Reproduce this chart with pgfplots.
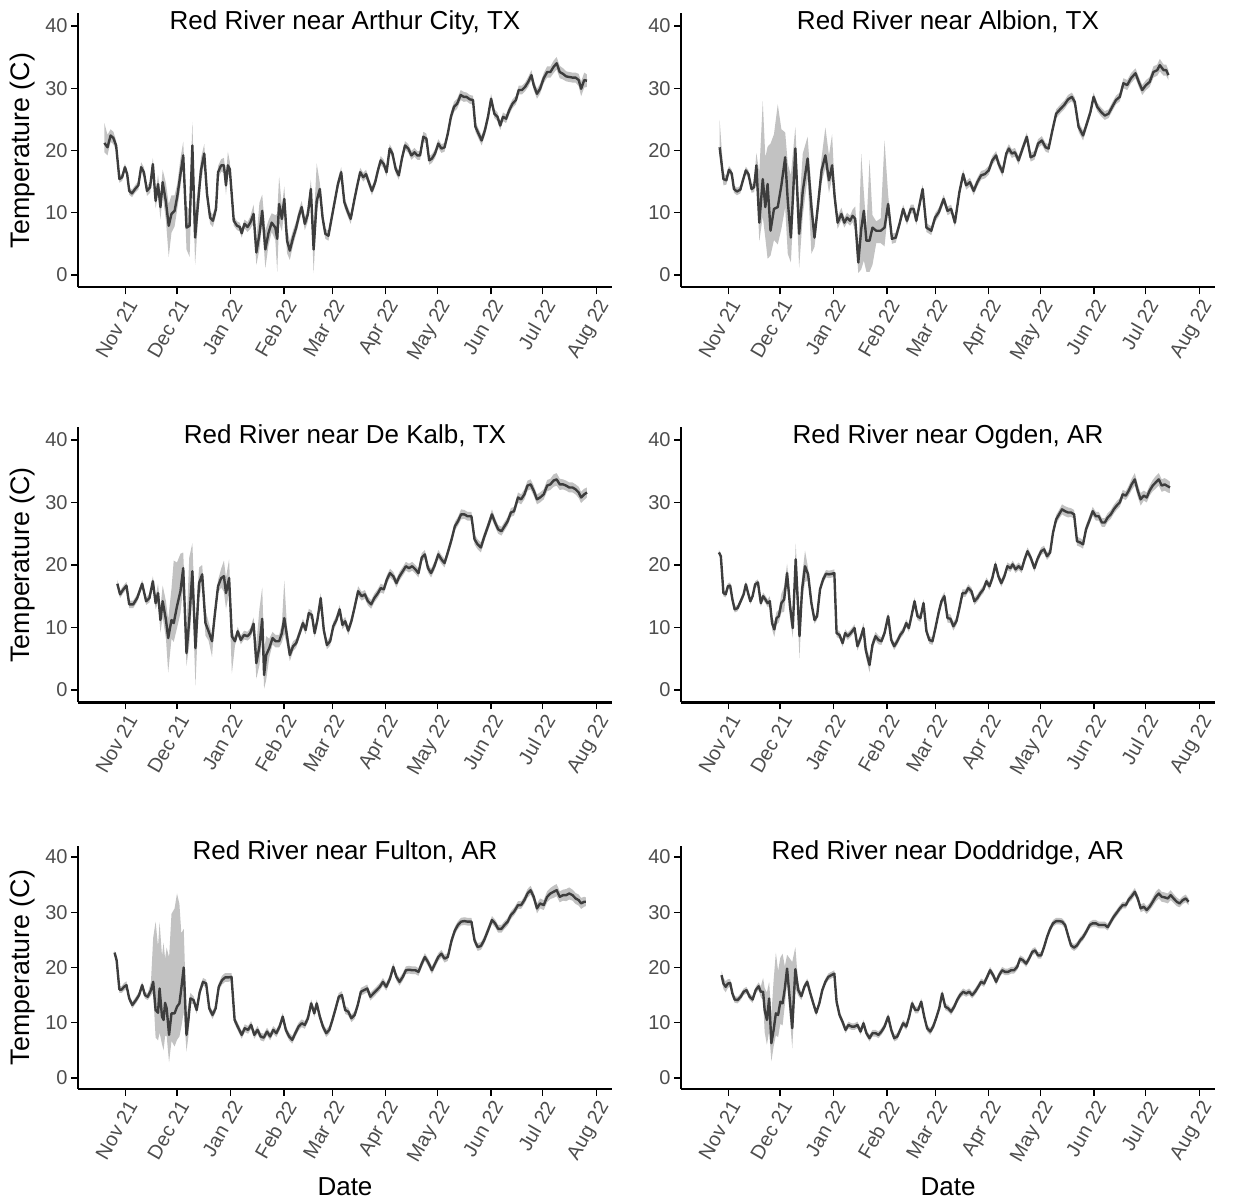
\documentclass[border=0pt]{standalone}
\usepackage{pgfplots}
\usepackage{pgfplotstable}
\pgfplotsset{compat=1.18}
\usepgfplotslibrary{fillbetween}
\usepackage{fontspec}
\setmainfont{Liberation Sans}

\definecolor{ribbon}{HTML}{C2C2C2}
\definecolor{lineC}{HTML}{3D3D3D}
\definecolor{tickgrey}{HTML}{4D4D4D}
\newcommand\tickfont{\fontsize{10}{12}\selectfont}
\newcommand\titlefont{\fontsize{13}{15}\selectfont}
\newcommand\labfont{\fontsize{13.4}{15}\selectfont}

% x = days since 1 Nov 2021, y = mean temperature (C),
% d = distance from the mean down to the band's lower edge, u = up to its upper edge
\pgfplotstableread{
x y d u
-12.1 21.2 1.5 3.2
-10.3 20.5 1.3 2.0
-8.5 22.4 1.0 1.0
-6.9 22.0 1.0 1.0
-5.3 20.8 0.8 0.8
-3.4 15.4 0.6 0.6
-1.8 15.7 0.6 0.6
-0.2 17.3 0.6 0.6
1.1 16.2 0.6 0.6
2.3 13.5 0.6 0.6
3.9 13.1 0.6 0.6
5.7 13.8 0.6 0.6
7.6 14.4 0.7 0.7
9.2 17.3 0.8 0.8
10.8 16.5 0.8 0.8
12.6 13.5 0.8 0.8
14.4 14.1 0.9 0.9
16.0 17.8 1.0 1.0
17.6 11.9 1.2 1.2
19.0 14.6 1.5 1.5
20.4 10.9 2.0 2.0
21.7 14.9 2.0 2.0
23.6 11.7 3.0 3.0
25.2 7.9 5.0 3.5
26.8 9.8 3.0 3.0
28.6 10.3 2.5 2.5
30.2 12.7 2.0 2.0
32.0 16.2 2.0 2.5
33.6 19.2 1.5 2.2
35.5 7.6 3.5 3.5
37.3 7.9 5.0 2.5
38.9 20.8 3.5 3.8
40.5 6.0 4.4 4.0
42.3 11.9 2.5 2.5
43.9 16.8 2.0 2.0
45.8 19.5 1.5 1.5
47.4 13.0 1.0 1.0
49.2 9.2 1.0 1.0
50.8 8.7 1.0 1.0
52.6 10.6 1.0 1.0
53.8 16.5 1.0 1.0
55.6 17.6 1.0 1.0
57.2 17.6 1.2 1.2
58.4 14.4 1.5 1.5
59.5 17.6 1.5 2.2
60.6 17.0 1.2 1.2
62.9 8.7 0.8 0.8
64.8 7.9 0.7 0.7
66.4 7.7 0.7 0.7
67.5 6.7 0.7 0.7
69.1 8.2 0.7 0.7
70.9 7.7 0.8 0.8
72.5 8.4 1.0 1.0
74.4 9.8 1.5 1.5
76.0 3.6 2.0 2.0
77.8 6.6 2.5 5.0
79.4 10.3 2.0 2.6
81.2 4.1 3.0 3.0
83.1 6.8 2.0 2.0
84.9 8.4 1.5 1.5
87.0 7.6 2.0 2.0
88.1 5.8 5.3 4.0
89.2 11.4 3.0 4.4
90.8 9.0 2.0 2.0
92.2 12.2 2.0 2.0
93.8 5.5 2.0 2.0
95.4 3.9 1.5 1.5
97.3 6.0 1.2 1.2
99.1 7.6 1.0 1.0
100.7 9.5 1.0 1.0
102.3 10.9 1.0 1.0
104.1 8.2 1.0 1.0
105.9 9.8 1.2 1.2
107.6 13.8 1.5 1.5
109.2 4.1 3.8 4.0
111.0 11.9 2.0 6.0
112.8 13.8 1.0 1.0
114.4 9.2 1.0 1.0
116.0 6.6 0.8 0.8
117.8 6.3 0.8 0.8
119.7 9.2 0.8 0.8
121.5 11.9 0.8 0.8
123.3 14.6 0.8 0.8
125.2 16.5 0.8 0.8
127.0 11.7 0.8 0.8
128.8 10.3 0.8 0.8
130.7 9.0 0.8 0.8
132.7 11.9 0.8 0.8
134.3 14.1 0.7 0.7
136.2 16.5 0.7 0.7
138.0 15.7 0.7 0.7
139.6 16.2 0.7 0.7
141.2 14.9 0.7 0.7
143.0 13.5 0.7 0.7
144.9 14.9 0.7 0.7
146.5 16.8 0.7 0.7
148.1 18.4 0.7 0.7
149.9 17.8 0.7 0.7
151.5 16.5 0.7 0.7
153.3 20.3 0.7 0.7
154.9 19.5 0.7 0.7
156.8 17.0 0.7 0.7
158.6 16.0 0.7 0.7
160.4 18.7 0.7 0.7
162.2 20.8 0.7 0.7
164.1 20.3 0.7 0.7
165.9 19.2 0.7 0.7
167.7 19.7 0.7 0.7
169.3 19.2 0.7 0.7
170.9 19.2 0.7 0.7
172.8 22.2 0.8 0.8
174.6 21.9 0.8 0.8
176.2 18.4 0.7 0.7
177.8 18.7 0.7 0.7
179.6 19.5 0.7 0.7
181.5 21.1 0.7 0.7
183.3 20.3 0.7 0.7
185.1 20.5 0.7 0.7
187.0 22.7 0.7 0.7
188.8 25.4 0.8 0.8
190.6 27.0 0.8 0.8
192.4 27.5 0.8 0.8
194.5 28.9 0.8 0.8
196.3 28.6 0.8 0.8
197.9 28.6 0.7 0.7
199.8 28.2 0.7 0.7
201.6 28.1 0.7 0.7
203.0 23.8 0.8 0.8
204.8 22.7 0.8 0.8
206.6 21.6 0.8 0.8
208.5 23.2 0.8 0.8
210.3 25.4 0.8 0.8
212.1 28.3 0.8 0.8
214.0 25.9 0.7 0.7
215.8 25.4 0.7 0.7
217.4 24.0 0.7 0.7
219.0 25.4 0.7 0.7
220.8 25.1 0.7 0.7
222.7 26.5 0.7 0.7
224.5 27.5 0.7 0.7
226.5 28.1 0.7 0.7
228.1 29.7 0.7 0.7
230.0 29.7 0.7 0.7
231.8 30.2 0.7 0.7
233.6 31.0 0.8 0.8
235.5 32.1 0.8 0.8
236.8 30.5 0.8 0.8
238.7 29.1 0.8 0.8
240.5 29.9 0.8 0.8
242.6 31.6 0.8 0.8
244.6 32.6 0.9 0.9
246.5 32.6 0.9 0.9
248.3 33.4 1.0 1.0
250.1 34.0 1.0 1.0
251.9 32.6 1.0 1.0
253.8 32.3 0.9 0.9
255.6 31.9 0.8 0.8
257.4 31.8 0.8 0.8
259.3 31.7 0.8 0.8
261.1 31.7 0.8 0.8
262.9 31.3 1.0 1.0
264.3 29.9 1.2 1.2
266.1 31.3 1.2 1.2
267.7 31.2 1.0 1.0
}\tArthur

\pgfplotstableread{
x y d u
-5.0 20.5 1.0 4.4
-2.8 15.4 1.0 1.0
-1.1 15.2 0.7 0.7
0.4 16.9 0.6 0.6
2.0 16.3 0.6 0.6
3.3 13.8 0.6 0.6
5.0 13.4 0.6 0.6
7.0 13.7 0.6 0.6
8.5 15.2 0.6 0.6
10.2 16.8 0.6 0.6
11.7 16.2 0.6 0.6
13.5 13.8 0.6 0.6
15.0 14.1 0.8 1.0
16.3 17.6 1.5 2.0
18.0 8.4 3.0 8.0
20.0 15.4 6.0 12.5
21.5 10.9 5.0 8.0
22.8 14.6 12.0 6.0
24.5 7.1 4.0 14.0
26.5 10.6 5.0 12.0
28.7 10.9 6.0 16.5
30.8 14.4 7.0 9.0
33.0 18.9 8.0 4.0
34.5 11.9 8.5 6.0
36.3 6.0 4.0 10.0
38.9 20.3 4.0 3.5
41.1 6.6 5.5 4.0
43.2 13.5 4.0 6.0
46.0 18.7 3.0 3.5
48.2 10.9 7.5 3.0
50.0 6.0 1.5 1.5
51.9 10.9 1.5 1.5
54.1 16.8 2.0 2.0
56.3 19.2 2.0 4.5
58.4 15.2 2.0 4.0
60.2 17.6 2.0 5.0
61.7 12.5 1.5 1.5
63.4 8.4 1.0 1.0
65.6 9.8 1.0 1.0
67.3 8.4 0.8 0.8
68.9 9.2 0.8 0.8
70.6 8.7 0.8 0.8
72.1 9.5 1.0 1.0
73.6 9.0 2.0 2.0
75.4 2.0 1.7 2.0
77.1 7.4 6.5 12.0
78.6 10.3 8.0 3.0
80.1 5.5 5.0 2.0
81.9 5.5 5.0 13.0
83.6 7.6 6.0 2.0
85.8 7.1 2.0 1.5
88.4 7.1 2.0 2.0
90.6 7.6 3.0 14.0
92.7 11.4 1.0 1.5
94.9 5.8 0.8 0.8
97.1 6.0 0.8 0.8
99.3 8.2 0.7 0.7
101.4 10.6 0.7 0.7
103.6 8.7 0.7 0.7
105.8 10.6 0.7 0.7
107.5 10.6 0.7 0.7
109.0 8.7 0.7 0.7
112.7 13.8 0.7 0.7
114.9 7.6 0.7 0.7
117.7 7.1 0.7 0.7
119.9 9.2 0.7 0.7
122.1 10.1 0.7 0.7
124.9 12.2 0.7 0.7
127.1 10.3 0.7 0.7
129.2 10.6 0.7 0.7
131.4 8.4 0.7 0.7
134.0 13.3 0.7 0.7
136.2 16.2 0.7 0.7
137.9 14.4 0.7 0.7
140.1 14.9 0.7 0.7
142.3 13.5 0.7 0.7
144.4 14.9 0.7 0.7
146.6 16.0 0.7 0.7
148.8 16.2 0.7 0.7
151.0 16.8 0.7 0.7
153.1 18.4 0.7 0.7
155.3 19.2 0.7 0.7
156.8 17.8 0.7 0.7
159.0 16.5 0.7 0.7
161.2 19.5 0.7 0.7
162.7 20.3 0.7 0.7
164.4 19.5 0.7 0.7
166.2 19.7 0.7 0.7
168.3 18.4 0.7 0.7
170.9 20.5 0.7 0.7
173.1 22.2 0.7 0.7
175.3 18.9 0.7 0.7
177.5 19.2 0.7 0.7
179.6 21.1 0.7 0.7
181.8 21.6 0.7 0.7
184.0 20.5 0.7 0.7
185.7 20.3 0.7 0.7
187.9 23.2 0.7 0.7
190.1 25.9 0.7 0.7
192.7 26.7 0.7 0.7
194.8 27.3 0.7 0.7
197.0 28.2 0.7 0.7
199.2 28.6 0.7 0.7
200.9 27.8 0.7 0.7
203.1 23.8 0.8 0.8
205.7 22.4 0.8 0.8
207.9 24.3 0.7 0.7
210.0 26.2 0.7 0.7
211.8 28.6 0.7 0.7
213.9 27.0 0.7 0.7
216.1 26.2 0.7 0.7
218.3 25.6 0.7 0.7
220.5 25.9 0.7 0.7
222.6 27.0 0.7 0.7
224.8 28.1 0.7 0.7
227.0 28.6 0.7 0.7
229.1 30.8 0.8 0.8
231.3 30.5 0.8 0.8
233.5 31.6 0.8 0.8
236.1 32.4 0.8 0.8
238.3 30.8 0.8 0.8
240.0 29.7 0.8 0.8
242.2 30.5 0.8 0.8
244.3 31.0 0.8 0.8
246.5 32.6 0.9 0.9
248.7 32.9 0.9 0.9
250.2 33.7 1.0 1.0
252.4 32.9 0.9 0.9
253.9 32.9 0.9 0.9
255.2 32.1 0.8 0.8
}\tAlbion

\pgfplotstableread{
x y d u
-4.6 17.0 0.6 0.6
-3.0 15.3 0.6 0.6
-1.1 16.1 0.6 0.6
0.7 16.7 0.6 0.6
2.3 13.7 0.6 0.6
4.6 13.7 0.6 0.6
6.9 14.7 0.6 0.6
9.8 17.0 0.6 0.6
12.1 14.2 0.6 0.6
14.0 14.7 0.7 0.7
16.0 17.4 0.8 0.8
17.6 13.9 1.0 1.0
19.0 15.5 1.5 1.5
20.4 11.2 2.0 2.0
21.7 14.2 2.5 2.5
23.6 11.2 3.0 3.0
24.9 8.3 5.5 3.0
26.8 11.2 3.0 5.0
28.1 10.7 3.0 10.0
30.0 13.4 3.5 7.0
32.0 15.8 3.5 6.0
33.6 19.5 3.0 2.5
35.5 5.9 2.0 4.0
37.1 11.2 4.0 10.0
38.9 19.0 4.0 4.5
40.7 6.7 6.0 4.0
42.8 17.1 2.5 2.5
44.6 18.5 1.5 1.5
46.5 10.7 2.0 2.0
48.3 9.4 1.5 1.5
50.3 7.8 2.5 1.0
51.9 12.0 1.0 1.0
53.8 16.6 1.0 1.0
55.6 17.9 1.5 1.5
57.2 18.2 2.5 2.5
58.4 15.5 2.5 2.5
60.2 17.9 2.5 3.0
61.8 8.6 6.0 1.0
63.6 7.8 0.7 0.7
65.2 9.4 0.7 0.7
67.0 8.0 0.7 0.7
68.9 8.8 0.7 0.7
70.9 8.6 0.7 0.7
72.5 9.1 0.8 0.8
74.4 10.6 1.0 1.0
76.0 4.3 2.5 3.0
77.8 7.0 3.0 6.0
79.4 11.4 3.0 5.0
80.5 2.4 2.2 4.0
81.7 5.6 4.0 3.0
83.5 6.7 1.5 1.5
85.4 8.3 1.0 1.0
87.2 7.8 1.0 1.0
89.2 7.8 1.0 1.0
90.8 9.1 1.5 1.5
92.2 11.5 2.5 6.0
93.8 8.6 1.5 1.5
95.4 5.6 1.0 1.0
97.3 7.0 0.8 0.8
99.1 7.5 0.7 0.7
101.1 9.1 0.7 0.7
103.0 10.7 0.7 0.7
104.6 9.6 0.7 0.7
106.4 12.3 0.7 0.7
108.2 12.0 0.7 0.7
109.8 9.1 0.7 0.7
111.4 11.2 0.7 0.7
113.3 14.7 0.8 0.8
115.1 9.6 0.7 0.7
116.9 7.2 0.7 0.7
118.8 7.8 0.7 0.7
120.6 10.2 0.7 0.7
122.4 11.2 0.7 0.7
124.3 12.9 0.7 0.7
125.9 10.4 0.7 0.7
127.5 11.0 0.7 0.7
129.3 9.5 0.7 0.7
131.1 11.0 0.7 0.7
132.7 12.9 0.7 0.7
135.0 15.8 0.8 0.8
137.1 15.0 0.7 0.7
138.9 15.3 0.7 0.7
140.7 14.2 0.7 0.7
142.6 13.7 0.7 0.7
144.4 14.7 0.7 0.7
146.5 15.5 0.7 0.7
148.1 16.3 0.7 0.7
149.9 16.1 0.7 0.7
151.7 17.7 0.7 0.7
153.5 18.7 0.7 0.7
155.4 18.2 0.7 0.7
157.2 17.1 0.7 0.7
159.0 18.2 0.7 0.7
160.9 19.0 0.7 0.7
162.7 19.8 0.7 0.7
164.5 19.5 0.7 0.7
166.4 19.8 0.7 0.7
168.2 19.3 0.7 0.7
170.0 18.7 0.7 0.7
171.9 21.2 0.7 0.7
173.7 21.7 0.7 0.7
175.5 19.5 0.7 0.7
177.3 18.7 0.7 0.7
179.2 19.8 0.7 0.7
181.5 21.7 0.7 0.7
183.3 20.9 0.7 0.7
185.1 20.3 0.7 0.7
187.0 22.0 0.7 0.7
189.2 24.1 0.7 0.7
191.1 26.2 0.7 0.7
192.9 27.0 0.7 0.7
194.7 28.1 0.8 0.8
196.6 28.1 0.7 0.7
198.4 27.8 0.7 0.7
200.7 27.8 0.7 0.7
202.5 24.1 0.8 0.8
204.3 23.3 0.8 0.8
206.2 22.8 0.8 0.8
208.0 24.4 0.7 0.7
210.3 26.2 0.7 0.7
212.6 28.1 0.8 0.8
214.4 26.8 0.7 0.7
216.2 25.7 0.7 0.7
218.1 25.4 0.7 0.7
219.9 26.2 0.7 0.7
221.7 27.0 0.7 0.7
223.6 28.4 0.7 0.7
225.4 28.6 0.7 0.7
227.7 30.8 0.8 0.8
229.5 30.5 0.8 0.8
231.4 31.3 0.8 0.8
233.2 32.7 0.8 0.8
235.0 32.9 0.8 0.8
236.8 31.9 0.8 0.8
238.7 30.5 0.8 0.8
240.5 30.8 0.8 0.8
242.6 31.3 0.8 0.8
244.6 32.7 0.9 0.9
246.5 32.9 0.9 0.9
248.3 33.5 1.0 1.0
250.1 33.7 1.0 1.0
251.9 32.9 0.9 0.9
253.8 32.9 0.8 0.8
255.6 32.7 0.8 0.8
257.4 32.4 0.8 0.8
259.3 32.4 0.8 0.8
261.1 32.1 0.8 0.8
262.9 31.6 0.9 0.9
264.3 30.8 0.9 0.9
266.1 31.3 0.9 0.9
267.7 31.6 0.8 0.8
}\tDeKalb

\pgfplotstableread{
x y d
-5.4 22.0 0.4
-4.3 21.4 0.4
-2.8 15.5 0.5
-1.5 15.3 0.5
-0.2 16.6 0.5
1.1 16.7 0.5
2.4 14.5 0.5
3.7 12.9 0.5
5.4 13.1 0.5
7.2 14.2 0.5
8.9 15.3 0.5
10.2 16.9 0.5
11.5 15.5 0.5
12.8 14.2 0.5
14.1 15.0 0.5
15.6 16.9 0.5
17.2 17.2 0.5
18.9 13.9 0.6
20.2 15.0 0.6
21.5 14.5 0.6
22.8 13.9 0.6
24.1 14.2 0.8
25.4 10.7 1.0
26.7 9.7 1.2
28.0 11.5 1.0
29.3 11.8 1.0
30.8 13.9 1.5
32.4 14.5 2.0
34.1 18.7 1.5
35.8 13.4 2.0
37.4 9.9 1.5
39.1 20.9 2.5
41.3 8.6 3.5
42.8 16.1 2.0
44.5 19.8 2.5
46.3 18.5 1.0
48.2 13.9 0.7
50.0 11.2 0.6
51.5 11.8 0.6
53.2 16.1 0.6
55.0 17.7 0.6
56.7 18.6 0.6
58.4 18.5 0.6
60.2 18.6 0.6
61.5 18.7 0.6
62.8 9.1 0.6
64.5 8.8 0.6
66.3 7.5 0.6
67.8 9.1 0.6
69.3 8.6 0.6
71.0 9.1 0.6
73.2 9.9 0.6
74.9 7.0 0.7
76.7 8.3 0.7
78.4 9.9 0.8
79.7 6.4 1.0
81.9 4.0 1.2
83.6 7.2 0.8
85.4 8.6 0.7
87.1 8.0 0.7
88.8 7.8 0.6
90.6 9.1 0.6
92.7 11.8 0.6
94.5 8.0 0.6
96.2 7.0 0.6
98.0 7.8 0.6
99.7 8.8 0.6
101.4 9.4 0.6
103.2 10.7 0.6
104.7 9.9 0.6
106.2 11.8 0.6
108.0 14.2 0.6
109.7 11.8 0.6
111.4 11.5 0.6
113.2 13.9 0.6
114.9 9.4 0.6
116.6 8.0 0.6
118.4 7.8 0.6
120.1 9.9 0.6
121.9 12.3 0.6
123.6 14.2 0.6
125.3 15.0 0.7
127.1 11.5 0.7
128.8 11.4 0.7
130.5 10.2 0.7
132.3 11.0 0.6
134.0 13.1 0.6
135.8 15.5 0.6
137.5 15.5 0.6
139.2 16.3 0.6
141.0 15.8 0.6
142.7 14.2 0.6
144.4 14.7 0.6
146.2 15.5 0.6
147.9 16.1 0.6
149.7 17.4 0.6
151.4 16.6 0.6
153.1 17.9 0.6
154.9 20.1 0.6
156.6 18.2 0.6
158.3 17.1 0.6
160.1 18.2 0.6
161.8 19.8 0.6
163.6 19.5 0.6
164.9 20.1 0.6
166.6 19.3 0.6
168.3 19.8 0.6
170.1 19.3 0.6
171.8 20.9 0.6
173.5 22.2 0.6
175.3 21.2 0.6
177.5 19.5 0.6
179.2 20.9 0.6
181.4 22.2 0.6
183.1 22.5 0.6
184.8 21.4 0.6
186.6 22.0 0.6
188.3 25.2 0.6
190.1 27.3 0.7
191.8 28.1 0.7
193.5 28.9 0.8
195.3 28.6 0.8
197.0 28.4 0.8
198.7 28.4 0.7
200.5 28.1 0.7
202.2 23.8 0.7
204.0 23.6 0.7
205.7 23.3 0.7
207.4 25.7 0.7
209.6 27.3 0.7
211.3 28.6 0.7
213.1 27.8 0.7
214.8 27.8 0.7
216.6 26.8 0.7
218.3 26.8 0.7
220.0 27.6 0.7
221.8 28.1 0.7
223.5 28.9 0.7
225.2 29.5 0.7
227.0 30.0 0.7
228.7 31.3 0.7
230.5 31.1 0.7
232.2 31.9 0.8
233.9 32.9 0.9
235.7 33.7 1.0
237.4 31.9 1.0
239.1 30.5 1.0
240.9 31.1 0.8
242.6 30.8 0.8
244.3 31.9 0.8
246.1 32.7 0.9
247.8 33.2 1.0
249.6 33.7 1.0
251.3 32.7 1.0
253.0 32.9 1.0
254.8 32.6 1.0
256.1 32.4 0.9
}\tOgden

\pgfplotstableread{
x y d u
-6.2 22.7 0.4 0.4
-5.0 21.3 0.4 0.4
-3.4 16.0 0.6 0.6
-2.1 16.0 0.6 0.6
-0.7 16.5 0.7 0.7
0.7 16.8 0.7 0.7
2.3 14.4 0.6 0.6
4.1 13.2 0.6 0.6
6.2 14.1 0.6 0.6
8.0 15.0 0.6 0.6
9.8 16.8 0.6 0.6
11.4 15.0 0.6 0.6
13.0 14.7 0.6 0.6
14.9 15.9 1.0 1.5
16.2 17.4 2.0 8.0
17.6 12.3 5.0 16.0
19.0 11.8 5.0 12.0
19.9 16.2 8.0 12.0
21.3 11.1 5.0 11.0
22.2 10.5 5.5 14.0
23.1 13.6 6.0 8.0
24.0 12.6 5.0 11.0
25.4 7.8 5.0 14.0
26.8 11.7 5.0 18.0
28.6 11.7 6.0 19.0
30.0 12.9 6.0 20.5
31.4 13.5 6.0 18.0
32.5 16.2 7.0 10.0
33.9 20.0 8.0 7.0
35.5 7.8 3.0 3.0
36.6 10.5 3.0 3.0
37.8 14.4 1.0 1.0
39.6 14.1 0.7 0.7
41.4 12.3 0.7 0.7
43.2 15.6 0.7 0.7
45.1 17.4 0.7 0.7
46.9 17.1 0.7 0.7
48.7 12.6 0.7 0.7
50.6 11.4 0.7 0.7
52.4 12.6 0.7 0.7
54.2 16.5 0.7 0.7
56.1 17.7 0.8 0.8
57.9 18.2 0.8 0.8
59.7 18.2 0.8 0.8
61.6 18.3 0.7 0.7
63.4 10.5 0.7 0.7
65.2 9.3 0.7 0.7
67.5 7.8 0.7 0.7
69.3 9.0 0.7 0.7
71.2 8.7 0.7 0.7
73.0 9.6 0.7 0.7
74.8 7.8 0.7 0.7
76.7 8.7 0.7 0.7
78.5 7.5 0.7 0.7
80.3 7.3 0.7 0.7
82.2 8.4 0.7 0.7
84.0 7.5 0.7 0.7
85.8 8.7 0.7 0.7
87.6 8.1 0.7 0.7
89.5 9.3 0.7 0.7
91.3 11.1 0.7 0.7
93.1 8.7 0.7 0.7
95.0 7.5 0.7 0.7
96.8 6.9 0.7 0.7
98.6 8.1 0.7 0.7
100.5 9.3 0.7 0.7
102.3 9.9 0.7 0.7
104.1 9.6 0.7 0.7
105.9 10.8 0.7 0.7
107.8 13.5 0.7 0.7
109.6 11.7 0.7 0.7
111.0 13.5 0.7 0.7
112.8 11.1 0.7 0.7
114.6 9.3 0.7 0.7
116.5 8.1 0.7 0.7
118.3 8.7 0.7 0.7
120.1 10.5 0.7 0.7
122.0 12.6 0.7 0.7
123.8 14.7 0.7 0.7
125.6 15.0 0.7 0.7
127.5 12.3 0.7 0.7
129.3 12.0 0.7 0.7
131.1 10.8 0.7 0.7
133.0 11.4 0.7 0.7
134.8 13.2 0.7 0.7
136.6 15.6 0.7 0.7
138.4 15.9 0.7 0.7
140.3 16.2 0.7 0.7
142.1 14.7 0.7 0.7
143.9 15.3 0.7 0.7
145.8 15.9 0.7 0.7
147.6 16.5 0.7 0.7
149.4 17.4 0.7 0.7
151.3 16.5 0.7 0.7
153.5 18.0 0.7 0.7
155.4 20.1 0.7 0.7
157.2 18.3 0.7 0.7
159.0 17.4 0.7 0.7
160.9 18.3 0.7 0.7
162.7 19.5 0.7 0.7
164.5 19.6 0.7 0.7
166.4 19.5 0.7 0.7
168.2 19.5 0.7 0.7
170.0 19.2 0.7 0.7
171.9 20.7 0.7 0.7
173.7 21.9 0.7 0.7
175.5 21.0 0.7 0.7
177.8 19.5 0.7 0.7
179.6 20.7 0.7 0.7
181.5 21.9 0.7 0.7
183.3 22.5 0.7 0.7
185.1 21.6 0.7 0.7
187.0 21.9 0.7 0.7
189.2 24.9 0.7 0.7
191.1 26.7 0.7 0.7
192.9 27.7 0.7 0.7
194.7 28.3 0.7 0.7
196.6 28.4 0.7 0.7
198.4 28.3 0.7 0.7
200.7 28.3 0.7 0.7
202.5 24.9 0.7 0.7
204.3 23.7 0.7 0.7
206.2 23.9 0.7 0.7
208.0 24.9 0.7 0.7
210.3 26.7 0.7 0.7
212.6 28.6 0.7 0.7
214.4 28.0 0.7 0.7
216.2 27.0 0.7 0.7
218.1 27.0 0.7 0.7
219.9 27.7 0.7 0.7
221.7 28.3 0.7 0.7
223.6 29.5 0.7 0.7
225.4 30.1 0.7 0.7
227.7 31.3 0.7 0.7
229.5 31.3 0.7 0.7
231.4 32.2 0.7 0.7
233.2 33.4 0.8 0.8
235.0 34.0 0.8 0.8
236.8 32.8 0.8 0.8
238.7 30.7 0.9 0.9
240.5 31.6 0.9 0.9
242.6 31.3 0.9 0.9
244.6 32.8 1.0 1.0
246.5 33.4 1.0 1.0
248.3 33.7 1.1 1.1
250.1 34.0 1.1 1.1
251.9 32.8 1.0 1.0
253.8 33.1 1.0 1.0
255.6 33.1 1.1 1.1
257.4 33.4 1.1 1.1
259.3 33.1 1.0 1.0
261.1 32.5 1.0 1.0
262.9 32.2 1.0 1.0
264.3 31.6 1.0 1.0
266.1 31.9 0.9 0.9
267.0 31.9 0.8 0.8
}\tFulton

\pgfplotstableread{
x y d u
-3.9 18.6 0.8 0.8
-2.8 17.1 1.0 1.0
-1.5 16.5 1.0 1.0
-0.2 17.1 0.8 0.8
1.1 17.2 0.7 0.7
2.4 15.3 0.6 0.6
3.7 14.2 0.6 0.6
5.4 14.1 0.6 0.6
7.2 14.7 0.6 0.6
8.9 15.6 0.6 0.6
10.6 15.9 0.6 0.6
12.4 14.7 0.6 0.6
14.1 14.2 0.6 0.6
15.9 15.9 0.6 0.6
17.6 16.6 0.7 0.7
18.9 15.6 1.0 1.0
20.2 15.6 1.5 2.5
21.1 12.3 4.0 4.0
22.4 10.5 4.5 5.0
23.7 14.4 6.0 3.0
25.0 6.3 3.3 5.0
26.3 8.7 3.0 9.0
27.6 11.7 4.0 11.0
28.9 11.4 4.0 8.0
30.2 13.8 4.0 8.0
31.5 13.5 4.0 9.0
32.8 16.2 3.0 4.0
34.1 19.8 2.5 2.5
37.1 9.0 3.6 12.0
38.9 19.7 3.5 4.0
40.6 15.9 1.0 1.0
42.4 14.8 0.7 0.7
44.1 16.5 0.6 0.6
45.8 17.4 0.6 0.6
47.6 15.3 0.6 0.6
49.3 13.5 0.6 0.6
51.0 11.8 0.6 0.6
52.8 13.5 0.6 0.6
54.5 15.9 0.6 0.6
56.3 17.4 0.6 0.6
58.0 18.3 0.6 0.6
59.7 18.6 0.6 0.6
61.5 18.9 0.6 0.6
62.8 13.8 0.6 0.6
64.5 11.4 0.6 0.6
66.2 10.2 0.6 0.6
68.0 8.7 0.6 0.6
69.7 9.6 0.6 0.6
71.5 9.3 0.6 0.6
73.2 9.3 0.6 0.6
74.9 9.6 0.6 0.6
76.7 8.4 0.6 0.6
78.4 9.9 0.6 0.6
80.1 8.1 0.6 0.6
81.9 7.2 0.6 0.6
83.6 8.1 0.6 0.6
85.4 8.1 0.6 0.6
87.1 7.8 0.6 0.6
88.8 8.4 0.6 0.6
90.6 9.3 0.6 0.6
92.7 11.1 0.6 0.6
94.5 8.7 0.6 0.6
96.2 7.2 0.6 0.6
98.0 7.5 0.6 0.6
99.7 8.7 0.6 0.6
101.4 9.9 0.6 0.6
103.2 9.3 0.6 0.6
104.9 11.1 0.6 0.6
106.6 13.5 0.6 0.6
108.4 12.3 0.6 0.6
110.1 12.3 0.6 0.6
111.9 13.8 0.6 0.6
113.6 11.1 0.6 0.6
115.3 9.0 0.6 0.6
117.1 8.4 0.6 0.6
118.8 9.3 0.6 0.6
120.5 10.8 0.6 0.6
122.3 12.6 0.6 0.6
124.0 15.3 0.6 0.6
125.8 12.9 0.6 0.6
127.5 12.6 0.6 0.6
129.2 12.0 0.6 0.6
131.0 12.9 0.6 0.6
132.7 14.1 0.6 0.6
134.4 15.0 0.6 0.6
136.2 15.6 0.6 0.6
137.9 15.3 0.6 0.6
139.7 15.6 0.6 0.6
141.4 15.0 0.6 0.6
143.1 15.6 0.6 0.6
144.9 16.5 0.6 0.6
146.6 17.4 0.6 0.6
148.3 17.1 0.6 0.6
150.1 18.3 0.6 0.6
151.8 19.5 0.6 0.6
153.6 18.6 0.6 0.6
155.3 17.4 0.6 0.6
157.0 18.6 0.6 0.6
158.8 19.5 0.6 0.6
160.5 19.2 0.6 0.6
162.2 19.2 0.6 0.6
164.0 19.5 0.6 0.6
165.7 19.5 0.6 0.6
167.5 20.1 0.6 0.6
169.2 21.6 0.6 0.6
170.9 21.3 0.6 0.6
172.7 20.7 0.6 0.6
174.4 21.6 0.6 0.6
176.2 22.8 0.6 0.6
177.9 23.1 0.6 0.6
179.6 22.2 0.6 0.6
181.4 22.2 0.6 0.6
183.1 23.7 0.6 0.6
184.8 25.5 0.6 0.6
186.6 27.0 0.6 0.6
188.3 28.0 0.6 0.6
190.1 28.4 0.6 0.6
191.8 28.4 0.6 0.6
193.5 28.3 0.6 0.6
195.3 27.7 0.6 0.6
197.0 25.8 0.6 0.6
198.7 24.0 0.6 0.6
200.5 23.6 0.6 0.6
202.2 24.0 0.6 0.6
204.0 24.9 0.6 0.6
205.7 25.5 0.6 0.6
207.4 26.4 0.6 0.6
209.6 27.7 0.6 0.6
211.3 28.0 0.6 0.6
213.1 28.0 0.6 0.6
214.8 27.7 0.6 0.6
216.6 27.7 0.6 0.6
218.3 27.7 0.6 0.6
220.0 27.3 0.6 0.6
221.8 28.3 0.6 0.6
223.5 29.2 0.6 0.6
225.2 29.9 0.6 0.6
227.0 30.7 0.6 0.6
228.7 31.3 0.6 0.6
230.5 31.3 0.6 0.6
232.2 32.3 0.6 0.6
233.9 32.9 0.7 0.7
235.7 33.7 0.7 0.7
237.4 32.5 0.7 0.7
239.1 30.7 0.7 0.7
240.9 31.0 0.7 0.7
242.6 30.4 0.7 0.7
244.3 31.0 0.7 0.7
246.1 31.9 0.8 0.8
247.8 32.8 0.9 0.9
249.6 33.4 0.9 0.9
251.3 32.8 0.9 0.9
253.0 32.7 0.9 0.9
254.8 32.5 0.9 0.9
256.5 33.1 0.9 0.9
258.2 32.5 0.8 0.8
260.0 31.9 0.8 0.8
261.7 31.6 0.7 0.7
263.5 32.2 0.7 0.7
265.2 32.5 0.7 0.7
266.9 31.9 0.6 0.6
}\tDoddridge

\pgfplotsset{
  panel/.style={
    scale only axis, width=267pt,
    xmin=-27.4, xmax=282.2, ymin=-2, ymax=42,
    axis x line*=bottom, axis y line*=left,
    axis line style={line width=1.1pt, black, -},
    xtick={0,30,61,92,120,151,181,212,242,273},
    xticklabels={Nov 21,Dec 21,Jan 22,Feb 22,Mar 22,Apr 22,May 22,Jun 22,Jul 22,Aug 22},
    ytick={0,10,20,30,40},
    tick align=outside,
    major tick length=3.5pt,
    every tick/.style={black, line width=0.6pt},
    tick label style={font=\tickfont, text=tickgrey},
    xticklabel style={rotate=60, anchor=north east, inner sep=1pt},
    yticklabel style={inner sep=1.5pt},
    /pgf/number format/assume math mode=true,
    every axis title shift=0pt,
    title style={at={(0.5,0.943)}, anchor=base, font=\titlefont, inner sep=0pt},
  }
}

% band between y-d and y+(upper column), then the mean line
\newcommand\series[2]{%
  \addplot[name path=U, draw=none, forget plot] table[x=x, y expr=\thisrow{y}+\thisrow{#2}] {#1};
  \addplot[name path=L, draw=none, forget plot] table[x=x, y expr=\thisrow{y}-\thisrow{d}] {#1};
  \addplot[ribbon, draw=none, forget plot] fill between[of=U and L];
  \addplot[lineC, line width=1.2pt, line join=round] table[x=x, y=y] {#1};
}

\begin{document}
\begin{tikzpicture}
\begin{axis}[panel, height=136.95pt, at={(39pt,457.8pt)}, anchor=south west,
  title={Red River near Arthur City, TX}]
  \series{\tArthur}{u}
\end{axis}
\begin{axis}[panel, height=136.95pt, at={(340.5pt,457.8pt)}, anchor=south west,
  title={Red River near Albion, TX}]
  \series{\tAlbion}{u}
\end{axis}

\begin{axis}[panel, height=137.5pt, at={(39pt,250.25pt)}, anchor=south west,
  title={Red River near De Kalb, TX}]
  \series{\tDeKalb}{u}
\end{axis}
\begin{axis}[panel, height=137.5pt, at={(340.5pt,250.25pt)}, anchor=south west,
  title={Red River near Ogden, AR}]
  \series{\tOgden}{d}
\end{axis}

\begin{axis}[panel, height=121.5pt, at={(39pt,57pt)}, anchor=south west,
  title={Red River near Fulton, AR}]
  \series{\tFulton}{u}
\end{axis}
\begin{axis}[panel, height=121.5pt, at={(340.5pt,57pt)}, anchor=south west,
  title={Red River near Doddridge, AR}]
  \series{\tDoddridge}{u}
\end{axis}

\node[rotate=90, font=\labfont] at (11.25pt,526.25pt) {Temperature (C)};
\node[rotate=90, font=\labfont] at (11.25pt,319pt) {Temperature (C)};
\node[rotate=90, font=\labfont] at (11.25pt,117.75pt) {Temperature (C)};
\node[font=\titlefont] at (172.5pt,8pt) {Date};
\node[font=\titlefont] at (474pt,8pt) {Date};

\pgfresetboundingbox
\path[use as bounding box] (0,0) rectangle (622pt,601.5pt);
\end{tikzpicture}
\end{document}
